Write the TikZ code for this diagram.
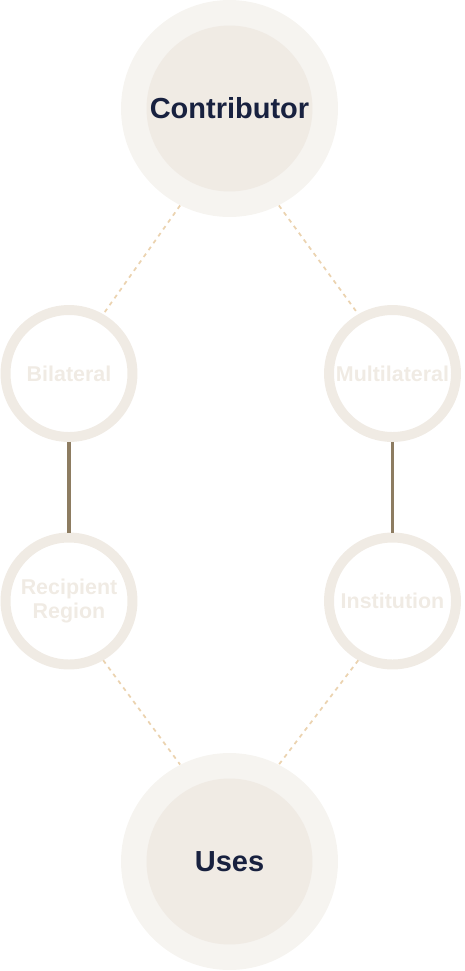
\documentclass[tikz,border=0pt]{standalone}
\usepackage{fontspec}
\setmainfont{Liberation Sans}
\usetikzlibrary{positioning}
\definecolor{ringbeige}{HTML}{F0EBE4}
\definecolor{hubpale}{HTML}{F6F4F0}
\definecolor{navy}{HTML}{18213F}
\definecolor{stembrown}{HTML}{8D7C61}
\definecolor{dashtan}{HTML}{EBD3B0}
\tikzset{
  hub/.style={circle, fill=hubpale, minimum size=4.34cm, inner sep=0pt},
  hubcore/.style={circle, fill=ringbeige, minimum size=3.32cm, inner sep=0pt, text=navy, font=\fontsize{16.5}{19}\selectfont\bfseries},
  ring/.style={circle, draw=ringbeige, line width=5.67pt, minimum size=2.54cm, inner sep=0pt, align=center, text=ringbeige, font=\fontsize{12.2}{13.4}\selectfont\bfseries},
  stem/.style={draw=stembrown, line width=2.27pt},
  dashlink/.style={draw=dashtan, line width=1pt, dash pattern=on 2.3pt off 2.5pt}
}

\begin{document}
\begin{tikzpicture}[x=0.02cm, y=-0.02cm]
\useasboundingbox (0,0) rectangle (464,971);

\node[hub] (contrib) at (229.5,108.5) {};
\node[hubcore] (contribcore) at (contrib) {Contributor};

\node[ring] (bilat) at (69,373.5) {Bilateral};
\node[ring] (multi) at (392.5,373.5) {Multilateral};
\node[ring] (recip) at (69,601) {Recipient\\Region};
\node[ring] (inst) at (392.5,601) {Institution};

\node[hub] (uses) at (229.5,861.5) {};
\node[hubcore] (usescore) at (uses) {Uses};

\draw[dashlink] (contrib.243) -- (bilat.60);
\draw[dashlink] (contrib.297) -- (multi.120);
\draw[stem] (bilat) -- (recip);
\draw[stem] (multi) -- (inst);
\draw[dashlink] (recip.300) -- (uses.117);
\draw[dashlink] (inst.240) -- (uses.63);
\end{tikzpicture}
\end{document}
